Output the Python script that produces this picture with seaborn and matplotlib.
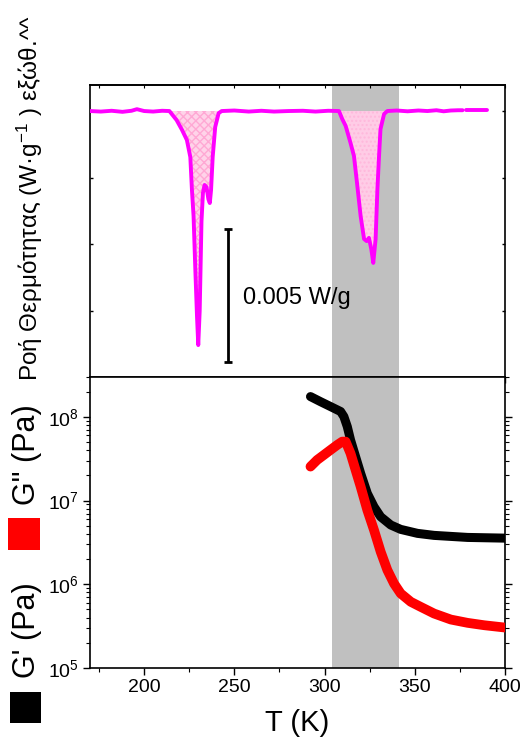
import numpy as np
import pandas as pd
import matplotlib
matplotlib.use("Agg")
import matplotlib.pyplot as plt
from matplotlib.patches import Rectangle
from matplotlib.ticker import MultipleLocator, LogLocator, LogFormatterSciNotation, NullFormatter
import seaborn as sns

sns.set_theme(style="ticks")
plt.rcParams['font.family'] = ['Liberation Sans', 'DejaVu Sans']
plt.rcParams['mathtext.fontset'] = 'custom'
plt.rcParams['mathtext.rm'] = 'Liberation Sans'
plt.rcParams['mathtext.it'] = 'Liberation Sans:italic'
plt.rcParams['mathtext.bf'] = 'Liberation Sans:bold'
for key in ['text.color', 'axes.labelcolor', 'xtick.color', 'ytick.color', 'axes.edgecolor']:
    plt.rcParams[key] = 'black'

# ---------------- DSC data (heat flow, W/g; baseline = 0) ----------------
dsc_T = [170, 176, 182, 188, 193, 196, 200, 205, 210, 214,
         218, 221, 223.7, 225.6, 226.5, 227.4, 228.4, 229.3, 230.0, 230.8,
         231.8, 232.6, 233.5, 234.6, 235.6, 236.4, 237.1, 238.0, 239.4, 241.3,
         243, 250, 258, 265, 272, 280, 288, 295, 302, 308,
         309.8, 311.7, 314.4, 316.3, 318, 320, 321.9, 323.3, 324.6, 325.9,
         327, 328.3, 329.3, 330.2, 331, 333, 334.8, 340, 346, 352,
         357, 362, 366, 370, 374, 376.5, 378.5, 384, 390]
dsc_q = [0.0, -0.00002, 0.00001, -0.00003, 0.00001, 0.00007, 0.0, -0.00002, 0.00001, 0.0,
         -0.00034, -0.00071, -0.00109, -0.00173, -0.00297, -0.00395, -0.00601, -0.00771, -0.00880, -0.00752,
         -0.00414, -0.00308, -0.00278, -0.00286, -0.00331, -0.00346, -0.00297, -0.00173, -0.00060, -0.00008,
         0.0, 0.00002, -0.00002, 0.00001, -0.00002, 0.0, 0.00001, -0.00002, 0.00001, 0.0,
         -0.00030, -0.00056, -0.00120, -0.00169, -0.00271, -0.00395, -0.00481, -0.00489, -0.00477, -0.00519,
         -0.00571, -0.00481, -0.00293, -0.00169, -0.00068, -0.00011, 0.0, 0.00002, -0.00001, 0.00002,
         0.0, 0.00003, -0.00001, 0.00002, 0.00003, 0.00003, 0.00004, 0.00004, 0.00004]
dsc_segment = [0] * 66 + [1] * 3

# scale bar (W/g)
bar_T = 246.5
bar_top = -0.00444
bar_len = 0.005
bar_label = "0.005 W/g"

# ---------------- Rheology data ----------------
Gp_T = [292.2, 297.8, 303.3, 308.9, 310.7, 312.6, 314.4, 317.2, 320.0, 323.7,
        327.4, 331.1, 336.7, 342.2, 351.5, 360.7, 379.3, 400.0]
Gp = [1.75e8, 1.52e8, 1.33e8, 1.16e8, 1.01e8, 7.66e7, 5.31e7, 3.35e7, 2.12e7, 1.22e7,
      8.45e6, 6.41e6, 5.11e6, 4.53e6, 4.06e6, 3.84e6, 3.63e6, 3.56e6]
Gpp_T = [292.2, 295.9, 299.6, 303.3, 307.0, 309.8, 311.7, 314.4, 317.2, 320.0,
         323.7, 327.4, 331.1, 334.8, 338.5, 342.2, 347.8, 353.3, 360.7, 370.0,
         379.3, 388.5, 400.0]
Gpp = [2.55e7, 3.06e7, 3.51e7, 4.03e7, 4.62e7, 5.07e7, 5.07e7, 3.67e7, 2.32e7, 1.47e7,
       7.71e6, 4.45e6, 2.45e6, 1.48e6, 1.02e6, 7.76e5, 6.17e5, 5.37e5, 4.47e5, 3.79e5,
       3.46e5, 3.24e5, 3.04e5]

band = (304.4, 341.0)
x_ticks = [200, 250, 300, 350, 400]

# ---------------- Figure ----------------
fig = plt.figure(figsize=(5.22, 7.48), dpi=100)
ax1 = fig.add_axes([0.1724, 0.4960, 0.7950, 0.3904])
ax2 = fig.add_axes([0.1724, 0.1070, 0.7950, 0.3890])

magenta = '#FF00FF'

# --- top panel
ax1.axvspan(*band, color='#C0C0C0', lw=0, zorder=0)
dsc = pd.DataFrame({'T': dsc_T, 'q': dsc_q, 'seg': dsc_segment})
T_arr = np.array(dsc_T)
q_arr = np.array(dsc_q)
m1 = (T_arr >= 214) & (T_arr <= 243)
ax1.fill_between(T_arr[m1], q_arr[m1], 0, facecolor='#FFD3E9', edgecolor='#FFA8D4',
                 hatch='xxxx', lw=0, zorder=1)
m2 = (T_arr >= 308) & (T_arr <= 334.8)
ax1.fill_between(T_arr[m2], q_arr[m2], 0, facecolor='#FFCCE6', edgecolor='#FFB8DC',
                 hatch='....', lw=0, zorder=1)
sns.lineplot(data=dsc, x='T', y='q', units='seg', estimator=None, sort=False,
             color=magenta, lw=2.8, ax=ax1, zorder=3, legend=False)
ax1.errorbar([bar_T], [bar_top - bar_len / 2], yerr=[bar_len / 2], color='black',
             lw=2, capsize=3, capthick=2, zorder=4)
ax1.text(255, -0.00703, bar_label, fontsize=17, ha='left', va='center')
ax1.set_xlim(170, 400)
ax1.set_ylim(-0.0100, 0.00098)
ax1.set_xlabel('')
ax1.set_ylabel('')
ax1.xaxis.set_major_locator(MultipleLocator(50))
ax1.xaxis.set_minor_locator(MultipleLocator(25))
ax1.set_yticks([0, -0.0025, -0.005, -0.0075])
ax1.tick_params(axis='x', which='both', bottom=True, top=False, labelbottom=False,
                direction='out', length=4, width=1)
ax1.tick_params(axis='y', which='both', left=True, right=True, labelleft=False,
                direction='in', length=2, width=1)
sec1 = ax1.secondary_xaxis('top')
sec1.xaxis.set_major_locator(MultipleLocator(50))
sec1.xaxis.set_minor_locator(MultipleLocator(25))
sec1.tick_params(axis='x', which='both', direction='in', length=2, width=0.8, labeltop=False)
for s in ax1.spines.values():
    s.set_linewidth(1.2)
    s.set_color('black')
sec1.spines['top'].set_linewidth(1.2)

# --- bottom panel
ax2.axvspan(*band, color='#C0C0C0', lw=0, zorder=0)
sns.lineplot(x=Gp_T, y=Gp, color='black', lw=6.5, ax=ax2, zorder=3, sort=False,
             estimator=None)
sns.lineplot(x=Gpp_T, y=Gpp, color='#FF0000', lw=7, ax=ax2, zorder=4, sort=False,
             estimator=None)
ax2.set_yscale('log')
ax2.set_xlim(170, 400)
ax2.set_ylim(1e5, 3.0e8)
ax2.xaxis.set_major_locator(MultipleLocator(50))
ax2.xaxis.set_minor_locator(MultipleLocator(25))
ax2.set_xticks(x_ticks)
ax2.set_xticklabels([str(v) for v in x_ticks])
ax2.yaxis.set_major_locator(LogLocator(base=10, numticks=10))
ax2.yaxis.set_major_formatter(LogFormatterSciNotation())
ax2.yaxis.set_minor_locator(LogLocator(base=10, subs=np.arange(2, 10), numticks=20))
ax2.yaxis.set_minor_formatter(NullFormatter())
ax2.tick_params(axis='both', which='major', labelsize=14, direction='out',
                length=5, width=1, pad=3, colors='black')
ax2.tick_params(axis='both', which='minor', direction='out', length=3, width=0.8,
                colors='black')
ax2.tick_params(axis='y', which='both', left=True, right=True)
ax2.tick_params(axis='x', which='both', bottom=True, top=False)
ax2.set_xlabel('T (K)', fontsize=21, labelpad=9, color='black')
ax2.set_ylabel('')
for s in ax2.spines.values():
    s.set_linewidth(1.2)
    s.set_color('black')

# --- y labels as figure text
fig.text(30 / 522, 1 - 198 / 748, "Ροή Θερμότητας (W·g$^{-1}$ ) εξώθ.^^",
         rotation=90, ha='center', va='center', fontsize=17.5, color='black')
fig.text(27 / 522, 1 - 630 / 748, "G' (Pa)", rotation=90, ha='center', va='center',
         fontsize=22, color='black')
fig.text(27 / 522, 1 - 455 / 748, 'G" (Pa)', rotation=90, ha='center', va='center',
         fontsize=22, color='black')
fig.add_artist(Rectangle((8 / 522, 1 - 550 / 748), 32 / 522, 32 / 748,
                         transform=fig.transFigure, color='#FF0000', lw=0))
fig.add_artist(Rectangle((10 / 522, 1 - 723 / 748), 31 / 522, 31 / 748,
                         transform=fig.transFigure, color='black', lw=0))

fig.savefig('out.png', dpi=100)
